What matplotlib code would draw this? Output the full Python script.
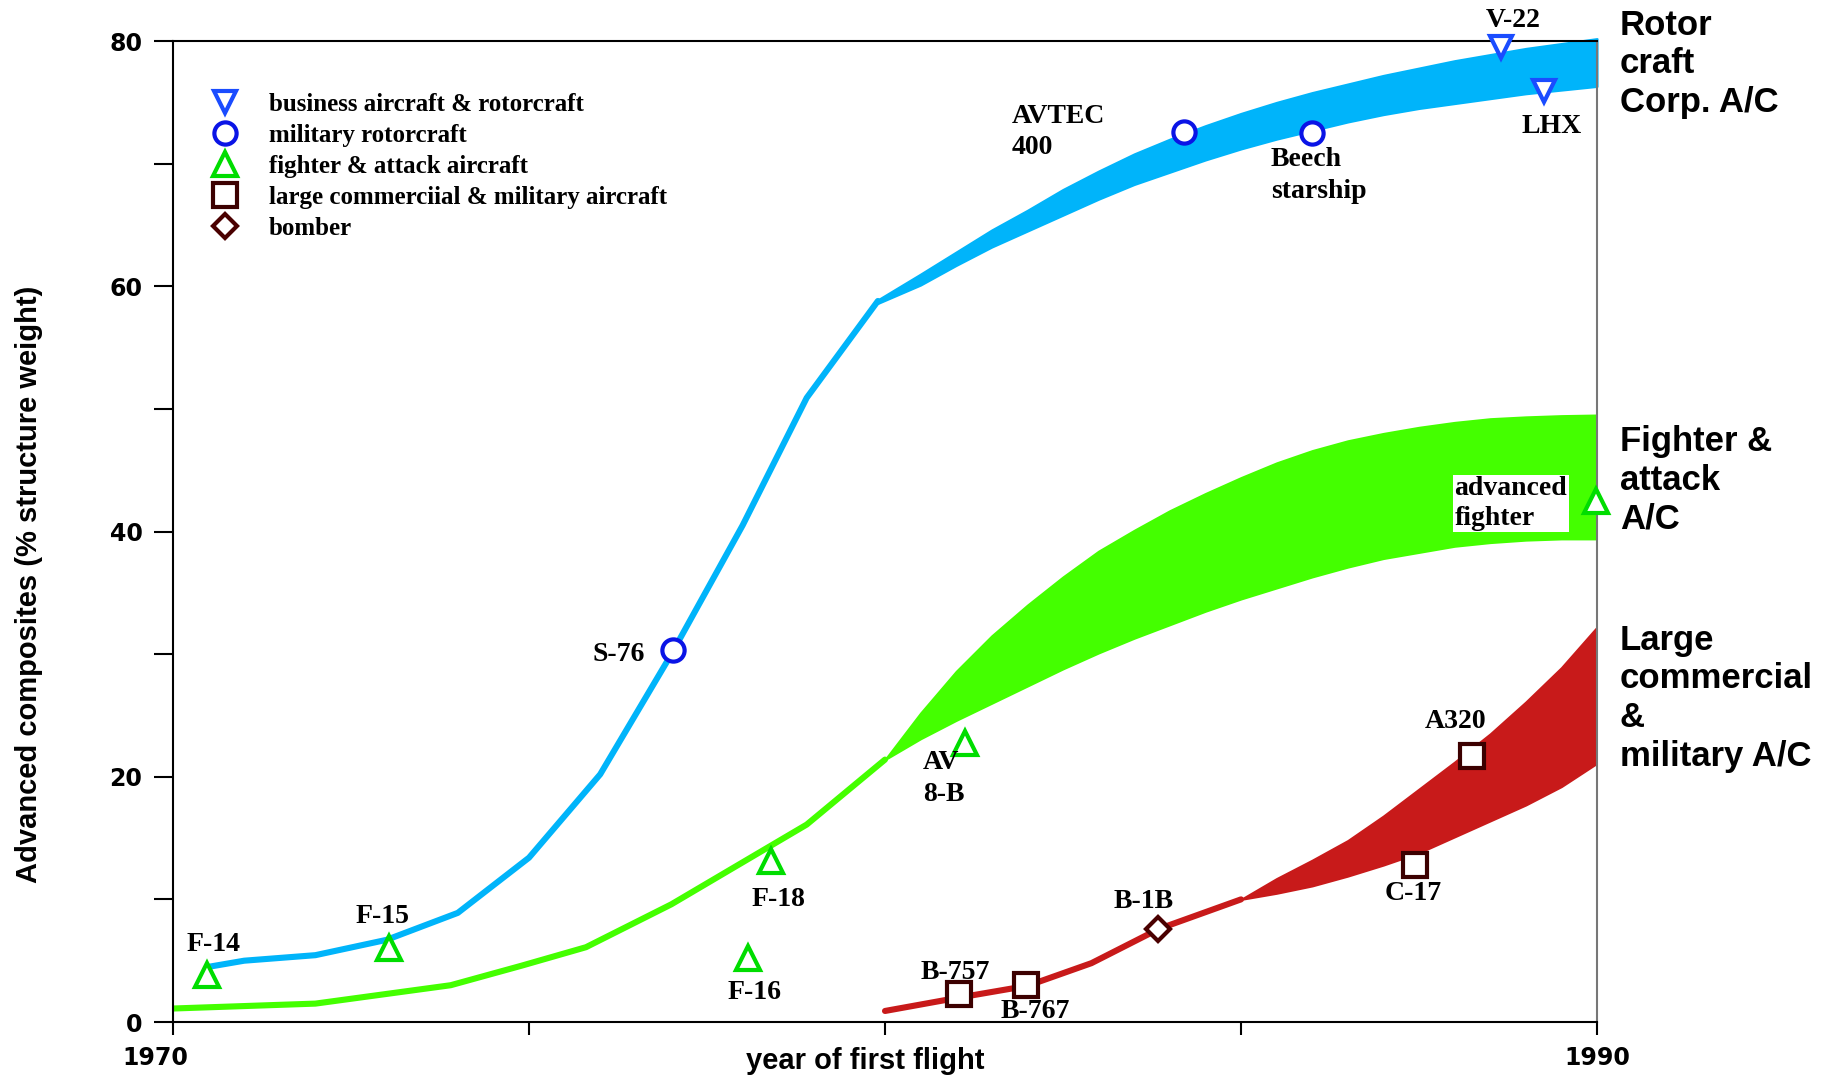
import matplotlib
matplotlib.use('Agg')
import matplotlib.pyplot as plt
from matplotlib.lines import Line2D
import matplotlib.transforms as mtransforms

# ---------------- data ----------------
rot_line_x = [1970.5, 1971.0, 1972.0, 1973.0, 1974.0, 1975.0, 1976.0, 1977.0, 1978.0, 1978.9, 1979.9]
rot_line_y = [4.5, 5.0, 5.45, 6.7, 8.9, 13.4, 20.2, 30.0, 40.5, 50.9, 58.8]
rot_band_x = [1979.9, 1980.5, 1981, 1981.5, 1982, 1982.5, 1983, 1983.5, 1984, 1984.5, 1985,
              1985.5, 1986, 1986.5, 1987, 1987.5, 1988, 1988.5, 1989, 1989.5, 1990]
rot_band_hi = [58.9, 61.0, 62.8, 64.6, 66.2, 67.9, 69.4, 70.8, 72.0, 73.1, 74.1,
               75.0, 75.8, 76.5, 77.2, 77.8, 78.4, 78.9, 79.4, 79.8, 80.2]
rot_band_lo = [58.6, 60.1, 61.7, 63.2, 64.5, 65.8, 67.1, 68.3, 69.3, 70.3, 71.2,
               72.0, 72.7, 73.4, 74.0, 74.5, 74.9, 75.3, 75.7, 76.0, 76.3]

fig_line_x = [1970.0, 1972.0, 1973.9, 1974.9, 1975.8, 1977.0, 1978.9, 1980.0]
fig_line_y = [1.1, 1.5, 3.0, 4.6, 6.1, 9.6, 16.1, 21.4]
fig_band_x = [1980, 1980.5, 1981, 1981.5, 1982, 1982.5, 1983, 1983.5, 1984, 1984.5, 1985,
              1985.5, 1986, 1986.5, 1987, 1987.5, 1988, 1988.5, 1989, 1989.5, 1990]
fig_band_hi = [21.4, 25.2, 28.6, 31.5, 34.0, 36.3, 38.4, 40.1, 41.7, 43.1, 44.4,
               45.6, 46.6, 47.4, 48.0, 48.5, 48.9, 49.2, 49.35, 49.45, 49.5]
fig_band_lo = [21.4, 23.1, 24.6, 26.0, 27.4, 28.8, 30.1, 31.3, 32.4, 33.5, 34.5,
               35.4, 36.3, 37.1, 37.8, 38.3, 38.8, 39.1, 39.3, 39.4, 39.4]

lrg_line_x = [1980.0, 1981.0, 1982.0, 1982.9, 1983.85, 1985.0]
lrg_line_y = [0.9, 1.95, 2.95, 4.8, 7.6, 10.0]
lrg_band_x = [1985, 1985.5, 1986, 1986.5, 1987, 1987.5, 1988, 1988.5, 1989, 1989.5, 1990]
lrg_band_hi = [10.0, 11.7, 13.2, 14.8, 16.8, 19.0, 21.2, 23.5, 26.1, 28.9, 32.2]
lrg_band_lo = [10.0, 10.5, 11.1, 11.9, 12.8, 13.8, 15.1, 16.4, 17.7, 19.2, 21.1]

business_names = ['V-22', 'LHX']
business_x = [1988.65, 1989.25]
business_y = [79.5, 75.9]

milrot_names = ['S-76', 'AVTEC 400', 'Beech starship']
milrot_x = [1977.02, 1984.2, 1986.0]
milrot_y = [30.3, 72.6, 72.5]

fighter_names = ['F-14', 'F-15', 'F-16', 'F-18', 'AV-8B', 'advanced fighter']
fighter_x = [1970.48, 1973.03, 1978.08, 1978.40, 1981.12, 1989.98]
fighter_y = [3.83, 6.0, 5.2, 13.14, 22.76, 42.5]

large_names = ['B-757', 'B-767', 'C-17', 'A320']
large_x = [1981.04, 1981.98, 1987.45, 1988.24]
large_y = [2.25, 3.0, 12.8, 21.7]

bomber_names = ['B-1B']
bomber_x = [1983.84]
bomber_y = [7.6]

legend_labels = ['business aircraft & rotorcraft', 'military rotorcraft',
                 'fighter & attack aircraft', 'large commerciial & military aircraft',
                 'bomber']

# point labels: text, x, y, ha
point_labels = [
    ('F-14', 1970.57, 6.3, 'center'),
    ('F-15', 1972.95, 8.6, 'center'),
    ('F-16', 1978.17, 2.4, 'center'),
    ('F-18', 1978.50, 10.0, 'center'),
    ('S-76', 1976.63, 30.0, 'right'),
    ('AV\n8-B', 1980.53, 19.85, 'left'),
    ('B-757', 1980.98, 4.0, 'center'),
    ('B-767', 1982.11, 0.88, 'center'),
    ('B-1B', 1983.63, 9.85, 'center'),
    ('C-17', 1987.42, 10.5, 'center'),
    ('A320', 1988.01, 24.5, 'center'),
    ('AVTEC\n400', 1981.78, 72.6, 'left'),
    ('Beech\nstarship', 1985.42, 69.05, 'left'),
    ('V-22', 1988.82, 81.65, 'center'),
    ('LHX', 1989.36, 73.05, 'center'),
]

xticks = [1970, 1990]
xtick_labels = ['1970', '1990']
xminor = [1975, 1980, 1985]
yticks = [0, 20, 40, 60, 80]
yminor = [10, 30, 50, 70]

# ---------------- style ----------------
C_BLUE = '#00B4FA'
C_GREEN = '#44FF00'
C_RED = '#C81A1A'
M_VBLUE = '#1A4CFF'
M_OBLUE = '#0A14E6'
M_GREEN = '#00DD00'
M_SQ = '#3C0000'
M_DI = '#4A0000'

SERIF = ['Liberation Serif', 'DejaVu Serif']
SANS = ['Liberation Sans', 'DejaVu Sans']
NARROW = ['Liberation Sans Narrow', 'Liberation Sans', 'DejaVu Sans']

fig = plt.figure(figsize=(18.32, 10.8), dpi=100)
ax = fig.add_axes([0.09443, 0.0537, 0.7773, 0.9083])
ax.set_xlim(1970, 1990)
ax.set_ylim(0, 80)

lw = 4.4
ax.plot(rot_line_x, rot_line_y, color=C_BLUE, lw=lw, solid_capstyle='round',
        solid_joinstyle='round', zorder=2)
ax.fill_between(rot_band_x, rot_band_lo, rot_band_hi, color=C_BLUE, lw=1.5, ec=C_BLUE,
                zorder=2, clip_on=False)
ax.plot(fig_line_x, fig_line_y, color=C_GREEN, lw=lw, solid_capstyle='round',
        solid_joinstyle='round', zorder=2)
ax.fill_between(fig_band_x, fig_band_lo, fig_band_hi, color=C_GREEN, lw=1.5, ec=C_GREEN, zorder=2)
ax.plot(lrg_line_x, lrg_line_y, color=C_RED, lw=lw, solid_capstyle='round',
        solid_joinstyle='round', zorder=2)
ax.fill_between(lrg_band_x, lrg_band_lo, lrg_band_hi, color=C_RED, lw=1.5, ec=C_RED, zorder=2)

mk = dict(ls='none', mfc='white', mew=3, zorder=5, clip_on=False)
ax.plot(business_x, business_y, marker='v', ms=16, mec=M_VBLUE, **mk)
ax.plot(milrot_x, milrot_y, marker='o', ms=16, mec=M_OBLUE, **mk)
ax.plot(fighter_x, fighter_y, marker='^', ms=17, mec=M_GREEN, **mk)
ax.plot(large_x, large_y, marker='s', ms=17, mec=M_SQ, **mk)
ax.plot(bomber_x, bomber_y, marker='D', ms=12, mec=M_DI, **mk)

for txt, x, y, ha in point_labels:
    ax.text(x, y, txt, ha=ha, va='center', family=SERIF, weight='bold',
            fontsize=20, linespacing=1.34, zorder=6, clip_on=False)

ax.text(1988.0, 42.3, 'advanced\nfighter', ha='left', va='center', family=SERIF,
        weight='bold', fontsize=20, linespacing=1.25, zorder=4,
        bbox=dict(facecolor='white', edgecolor='none', pad=1))

# right-hand category labels
rt = dict(transform=ax.transAxes, ha='left', va='top', family=SANS, weight='bold',
          fontsize=25, linespacing=1.22, clip_on=False)
ax.text(1.0161, 1.0330, 'Rotor\ncraft\nCorp. A/C', **rt)
ax.text(1.0161, 0.6085, 'Fighter &\nattack\nA/C', **rt)
ax.text(1.0161, 0.4060, 'Large\ncommercial\n&\nmilitary A/C', **rt)

# legend
handles = [
    Line2D([], [], ls='none', marker='v', ms=16, mfc='white', mew=3, mec=M_VBLUE),
    Line2D([], [], ls='none', marker='o', ms=16, mfc='white', mew=3, mec=M_OBLUE),
    Line2D([], [], ls='none', marker='^', ms=17, mfc='white', mew=3, mec=M_GREEN),
    Line2D([], [], ls='none', marker='s', ms=17, mfc='white', mew=3, mec=M_SQ),
    Line2D([], [], ls='none', marker='D', ms=12, mfc='white', mew=3, mec=M_DI),
]
ax.legend(handles, legend_labels, loc='upper left', bbox_to_anchor=(0.0225, 0.947),
          frameon=False, borderpad=0, borderaxespad=0, handlelength=1.6,
          handletextpad=0.96, labelspacing=0.32,
          prop=dict(family=SERIF, weight='bold', size=18))

# axes styling
for s in ['left', 'bottom', 'top']:
    ax.spines[s].set_color('black')
    ax.spines[s].set_linewidth(1.5)
ax.spines['right'].set_color('#777777')
ax.spines['right'].set_linewidth(1.5)

ax.set_xticks(xticks)
ax.set_xticklabels(xtick_labels)
ax.set_xticks(xminor, minor=True)
ax.set_yticks(yticks)
ax.set_yticks(yminor, minor=True)
ax.tick_params(axis='x', which='both', direction='out', length=9, width=1.5, pad=8)
ax.tick_params(axis='y', which='both', direction='out', length=14, width=1.5, pad=8)
ax.tick_params(which='both', top=False, right=False)
for lab in ax.get_xticklabels() + ax.get_yticklabels():
    lab.set_family('DejaVu Sans')
    lab.set_weight('bold')
    lab.set_fontsize(17)

ax.set_ylabel('Advanced composites (% structure weight)', family=NARROW,
              weight='bold', fontsize=21)
ax.yaxis.set_label_coords(-0.0913, 0.4465)
ax.text(0.486, -0.0398, 'year of first flight', transform=ax.transAxes, ha='center',
        va='center', family=NARROW, weight='bold', fontsize=21)

# shift first x tick label slightly left as in the reference
offset = mtransforms.ScaledTranslation(-0.18, 0, fig.dpi_scale_trans)
lab0 = ax.xaxis.get_major_ticks()[0].label1
lab0.set_transform(lab0.get_transform() + offset)

fig.savefig('out.png', dpi=100)
